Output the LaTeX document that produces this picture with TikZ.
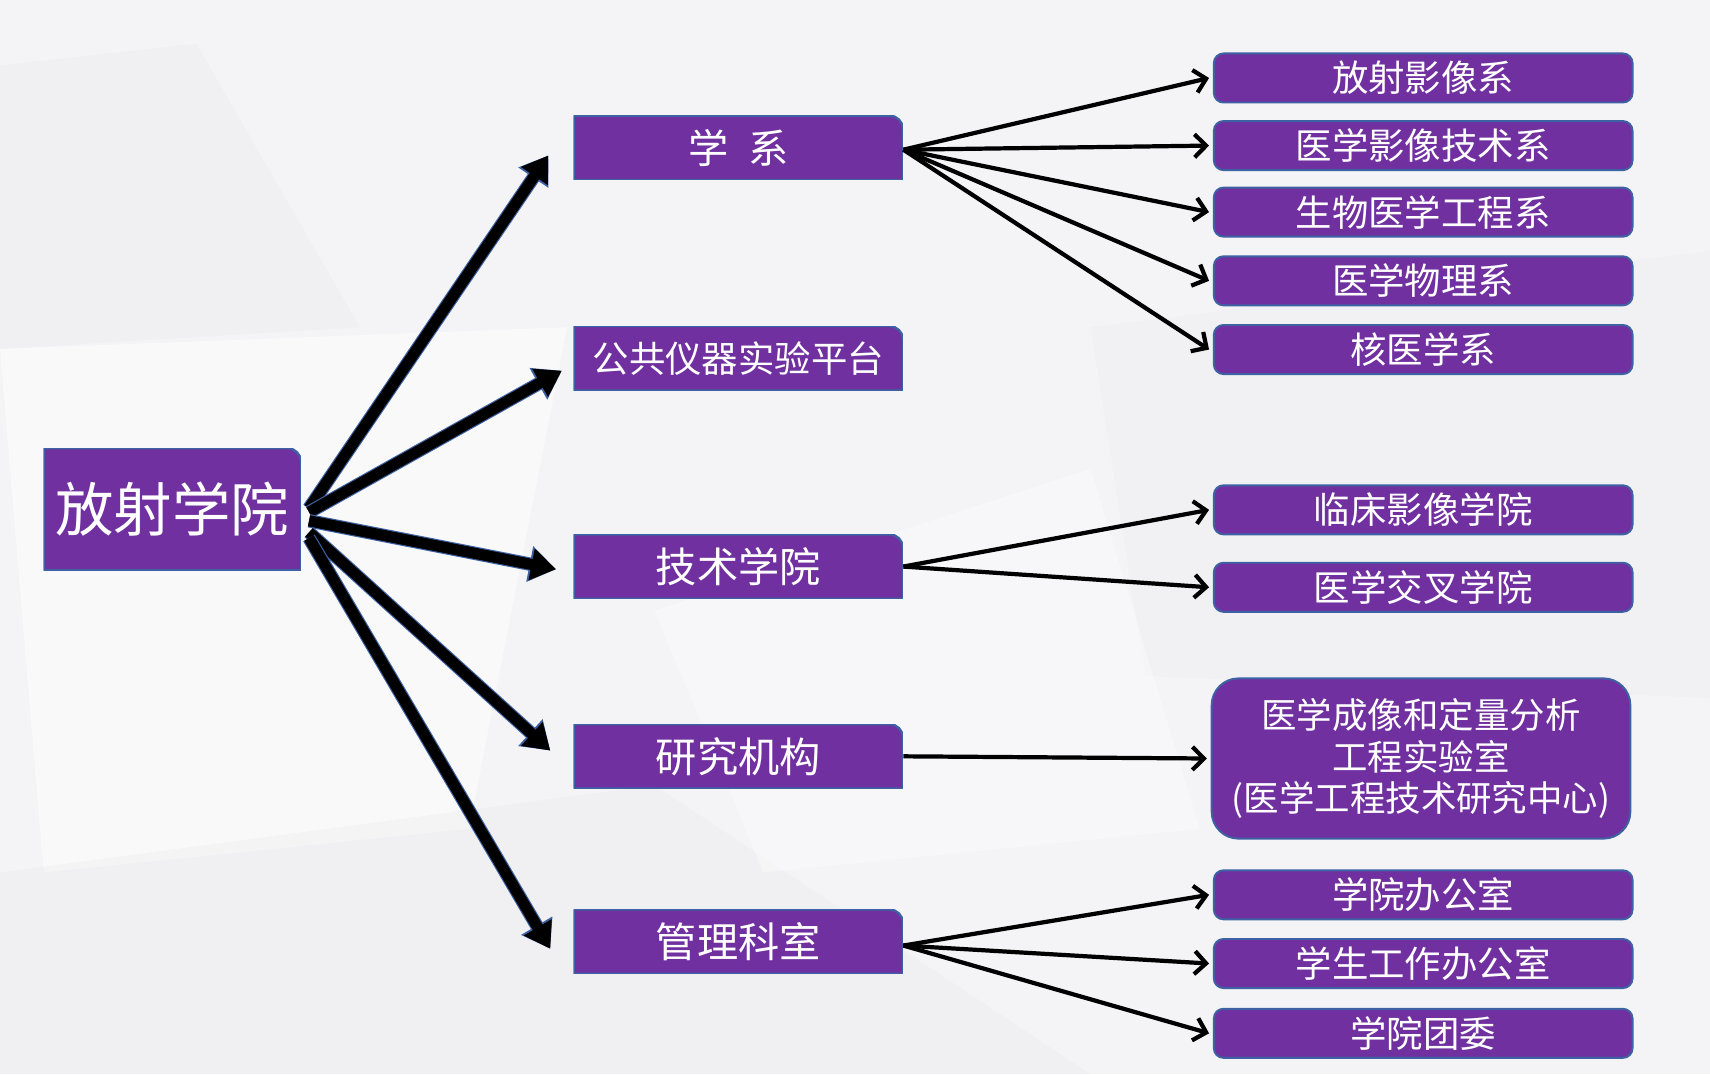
\documentclass[tikz,border=0pt]{standalone}
\usepackage{fontspec}
\newfontfamily\cjk{Noto Sans CJK SC}
\usetikzlibrary{arrows.meta}
\definecolor{boxviolet}{HTML}{7030A0}
\definecolor{edgeblue}{HTML}{3D62A3}
\definecolor{bggray}{HTML}{F4F4F6}
\definecolor{facetgray}{HTML}{E6E6EA}
\tikzset{
  tabfill/.style={fill=boxviolet,draw=edgeblue,line width=1.2pt},
  rootbox/.style={minimum width=4.72cm,minimum height=2.24cm,inner sep=0pt,text=white,
    font=\cjk\fontsize{30.5pt}{34pt}\selectfont,
    path picture={\path[tabfill] (path picture bounding box.south west) -- (path picture bounding box.north west)
      -- ([xshift=-7pt]path picture bounding box.north east) arc[start angle=90,end angle=0,radius=7pt]
      -- (path picture bounding box.south east) -- cycle;}},
  midbox/.style={rootbox,minimum width=6.04cm,minimum height=1.18cm,font=\cjk\fontsize{21.5pt}{25pt}\selectfont},
  leafbox/.style={fill=boxviolet,draw=edgeblue,line width=1pt,rounded corners=5pt,
    minimum width=7.68cm,minimum height=0.9cm,inner sep=0pt,text=white,
    font=\cjk\fontsize{19pt}{22pt}\selectfont},
  labbox/.style={leafbox,rounded corners=14pt,minimum height=2.94cm,align=center,
    font=\cjk\fontsize{18.5pt}{21.6pt}\selectfont},
  fatarrow/.style={line width=5.8pt,-{Triangle[length=13pt,width=16pt]},
    preaction={draw=edgeblue,line width=7pt,-{Triangle[length=14pt,width=18pt]}}},
  thinarrow/.style={line width=2.2pt,->}
}
\begin{document}
\begin{tikzpicture}[x=0.02cm,y=-0.02cm,>={Straight Barb[length=6pt,width=12pt]}]
% background
\useasboundingbox (0,0) rectangle (1568,985);
\fill[bggray] (0,0) rectangle (1568,985);
\fill[facetgray,opacity=.25] (0,60) -- (180,40) -- (330,300) -- (0,320) -- cycle;
\fill[white,opacity=.5] (0,320) -- (520,300) -- (430,760) -- (40,800) -- cycle;
\fill[facetgray,opacity=.25] (0,800) -- (600,720) -- (1000,985) -- (0,985) -- cycle;
\fill[facetgray,opacity=.15] (1000,300) -- (1568,230) -- (1568,640) -- (1050,620) -- cycle;
\fill[white,opacity=.35] (600,560) -- (1000,430) -- (1100,760) -- (700,800) -- cycle;

% boxes
\node[rootbox] (root) at (158,467) {放射学院};
\node[midbox,font=\cjk\fontsize{21pt}{25pt}\selectfont] (dept) at (677,135.5) {学\hspace{0.5em}系};
\node[midbox,font=\cjk\fontsize{19pt}{22pt}\selectfont] (platform) at (677,328.5) {公共仪器实验平台};
\node[midbox] (tech) at (677,519.5) {技术学院};
\node[midbox] (inst) at (677,693.5) {研究机构};
\node[midbox] (admin) at (677,863.5) {管理科室};

\node[leafbox] (d1) at (1305,71.5) {放射影像系};
\node[leafbox] (d2) at (1305,133.5) {医学影像技术系};
\node[leafbox] (d3) at (1305,194.5) {生物医学工程系};
\node[leafbox] (d4) at (1305,257.5) {医学物理系};
\node[leafbox] (d5) at (1305,320.5) {核医学系};
\node[leafbox] (t1) at (1305,467.5) {临床影像学院};
\node[leafbox] (t2) at (1305,538.5) {医学交叉学院};
\node[labbox] (lab) at (1303,695.5) {医学成像和定量分析\\工程实验室\\(医学工程技术研究中心)};
\node[leafbox] (a1) at (1305,820.5) {学院办公室};
\node[leafbox] (a2) at (1305,883.5) {学生工作办公室};
\node[leafbox] (a3) at (1305,947.5) {学院团委};

% fat arrows
\draw[fatarrow] ([xshift=4pt,yshift=0.5pt]root.east) -- ([xshift=-13pt,yshift=-4pt]dept.west);
\draw[fatarrow] ([xshift=4pt,yshift=-1.5pt]root.east) -- ([xshift=-6pt,yshift=-6.5pt]platform.west);
\draw[fatarrow] ([xshift=4pt,yshift=-6pt]root.east) -- ([xshift=-9pt,yshift=-1.4pt]tech.west);
\draw[fatarrow] ([xshift=4pt,yshift=-12pt]root.east) -- ([xshift=-12pt,yshift=3pt]inst.west);
\draw[fatarrow] ([xshift=4pt,yshift=-15pt]root.east) -- ([xshift=-12pt,yshift=-3.7pt]admin.west);

% thin arrows
\foreach \n in {d1,d2,d3,d4,d5}{
\draw[thinarrow] ([yshift=-1pt]dept.east) -- ([xshift=-2pt]\n.west);
}
\foreach \n in {t1,t2}{
\draw[thinarrow] (tech.east) -- ([xshift=-2pt]\n.west);
}
\draw[thinarrow] (inst.east) -- ([xshift=-2pt]lab.west);
\foreach \n in {a1,a2,a3}{
\draw[thinarrow] ([yshift=-2pt]admin.east) -- ([xshift=-2pt]\n.west);
}

\end{tikzpicture}
\end{document}
